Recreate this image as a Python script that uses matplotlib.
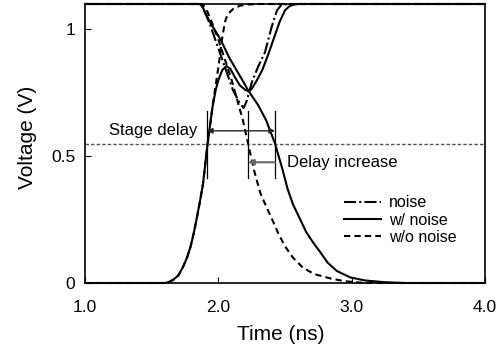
import numpy as np
import matplotlib.pyplot as plt

plt.rcParams['font.family'] = ['Liberation Sans', 'DejaVu Sans']

# waveforms, time in ns, voltage in V
t_rise_wo = [1.0, 1.60, 1.63, 1.66, 1.70, 1.735, 1.765, 1.79, 1.815, 1.84, 1.865, 1.885, 1.915, 1.94, 1.96, 1.98,
             2.00, 2.03, 2.05, 2.07, 2.11, 2.16, 2.22, 2.30, 4.0]
v_rise_wo = [0.0, 0.0, 0.004, 0.012, 0.03, 0.063, 0.10, 0.14, 0.195, 0.26, 0.33, 0.39, 0.53, 0.63, 0.71, 0.78,
             0.85, 0.97, 1.03, 1.06, 1.08, 1.093, 1.098, 1.1, 1.1]

t_rise_w = [1.0, 1.60, 1.63, 1.66, 1.70, 1.735, 1.765, 1.79, 1.815, 1.84, 1.865, 1.885, 1.915, 1.94, 1.955, 1.98,
            2.00, 2.03, 2.06, 2.09, 2.12, 2.16, 2.20, 2.225, 2.25, 2.29, 2.33, 2.37, 2.40, 2.43, 2.46, 2.50,
            2.53, 2.56, 2.60, 4.0]
v_rise_w = [0.0, 0.0, 0.004, 0.012, 0.03, 0.063, 0.10, 0.14, 0.195, 0.26, 0.33, 0.39, 0.53, 0.63, 0.69, 0.76,
            0.80, 0.84, 0.855, 0.845, 0.815, 0.78, 0.762, 0.756, 0.765, 0.80, 0.84, 0.895, 0.94, 0.985, 1.03, 1.075,
            1.09, 1.097, 1.1, 1.1]

t_fall_wo = [1.0, 1.88, 1.91, 1.95, 2.00, 2.05, 2.10, 2.14, 2.185, 2.223, 2.27, 2.315, 2.36, 2.40, 2.45, 2.50, 2.56,
             2.635, 2.72, 2.84, 2.95, 3.10, 4.0]
v_fall_wo = [1.1, 1.1, 1.08, 1.03, 0.96, 0.88, 0.80, 0.725, 0.64, 0.55, 0.44, 0.355, 0.30, 0.255, 0.195, 0.145, 0.10,
             0.06, 0.035, 0.018, 0.007, 0.0, 0.0]

t_fall_w = [1.0, 1.86, 1.88, 1.93, 2.02, 2.08, 2.13, 2.18, 2.223, 2.30, 2.36, 2.425, 2.48, 2.52, 2.56, 2.61, 2.66,
            2.71, 2.76, 2.82, 2.89, 2.99, 3.10, 3.25, 3.40, 4.0]
v_fall_w = [1.1, 1.1, 1.09, 1.035, 0.957, 0.89, 0.845, 0.80, 0.76, 0.70, 0.64, 0.55, 0.45, 0.37, 0.31, 0.255, 0.20,
            0.16, 0.125, 0.08, 0.047, 0.022, 0.01, 0.003, 0.0, 0.0]

t_noise = [1.0, 1.85, 1.88, 1.93, 1.99, 2.03, 2.07, 2.11, 2.16, 2.19, 2.215, 2.25, 2.30, 2.35, 2.40, 2.44, 2.47, 2.52, 4.0]
v_noise = [1.1, 1.1, 1.09, 1.03, 0.94, 0.88, 0.82, 0.76, 0.71, 0.69, 0.72, 0.79, 0.855, 0.91, 1.01, 1.075, 1.095, 1.1, 1.1]

v_th = 0.55
t_in = 1.915      # input crossing
t_out_wo = 2.223  # output crossing w/o noise
t_out_w = 2.425   # output crossing w/ noise

fig = plt.figure(figsize=(5.02, 3.5), dpi=100)
ax = fig.add_axes([85/502, 1 - 283/350, 400/502, 279/350])

ls_dash = (0, (3.0, 2.0))
ls_dashdot = (0, (5.8, 1.5, 1.0, 1.5))

ax.plot(t_noise, v_noise, color='k', lw=1.5, ls=ls_dashdot, label='noise', clip_on=False)
ax.plot(t_rise_w, v_rise_w, color='k', lw=1.5, label='w/ noise', clip_on=False)
ax.plot(t_fall_w, v_fall_w, color='k', lw=1.5, clip_on=False)
ax.plot(t_rise_wo, v_rise_wo, color='k', lw=1.5, ls=ls_dash, label='w/o noise', clip_on=False)
ax.plot(t_fall_wo, v_fall_wo, color='k', lw=1.5, ls=ls_dash, clip_on=False)

# threshold line
ax.axhline(v_th, color='#555555', lw=1.0, ls=(0, (2.5, 1.5)))

# delay markers
for tx in [t_in, t_out_wo, t_out_w]:
    ax.plot([tx, tx], [0.415, 0.68], color='k', lw=0.9)

ax.annotate('', xy=(t_in, 0.60), xytext=(t_out_w, 0.60),
            arrowprops=dict(arrowstyle='<|-|>', color='#222222', lw=1.0, mutation_scale=8, shrinkA=0, shrinkB=0))
ax.text(1.84, 0.60, 'Stage delay', ha='right', va='center', fontsize=12)

ax.annotate('', xy=(t_out_wo, 0.476), xytext=(t_out_w, 0.476),
            arrowprops=dict(arrowstyle='-|>', color='#666666', lw=1.5, mutation_scale=8, shrinkA=0, shrinkB=0))
ax.text(2.515, 0.476, 'Delay increase', ha='left', va='center', fontsize=12)

ax.set_xlim(1.0, 4.0)
ax.set_ylim(0, 1.1)
ax.set_xticks([1.0, 2.0, 3.0, 4.0])
ax.set_xticklabels(['1.0', '2.0', '3.0', '4.0'])
ax.set_yticks([0, 0.5, 1.0])
ax.set_yticklabels(['0', '0.5', '1'])
ax.tick_params(axis='both', direction='in', length=4, labelsize=12.5)
ax.tick_params(axis='x', pad=12)
ax.tick_params(axis='y', pad=7)
for s in ax.spines.values():
    s.set_linewidth(1.2)

ax.set_xlabel('Time (ns)', fontsize=15)
ax.set_ylabel('Voltage (V)', fontsize=15)
ax.xaxis.set_label_coords(0.49, -0.15)
ax.yaxis.set_label_coords(-0.12, 0.523)

ax.legend(loc='upper left', bbox_to_anchor=(0.6475, 0.315), frameon=False, fontsize=11.5,
          handlelength=2.3, handletextpad=0.5, labelspacing=0.15, borderpad=0, borderaxespad=0)

plt.savefig('out.png', dpi=100)
